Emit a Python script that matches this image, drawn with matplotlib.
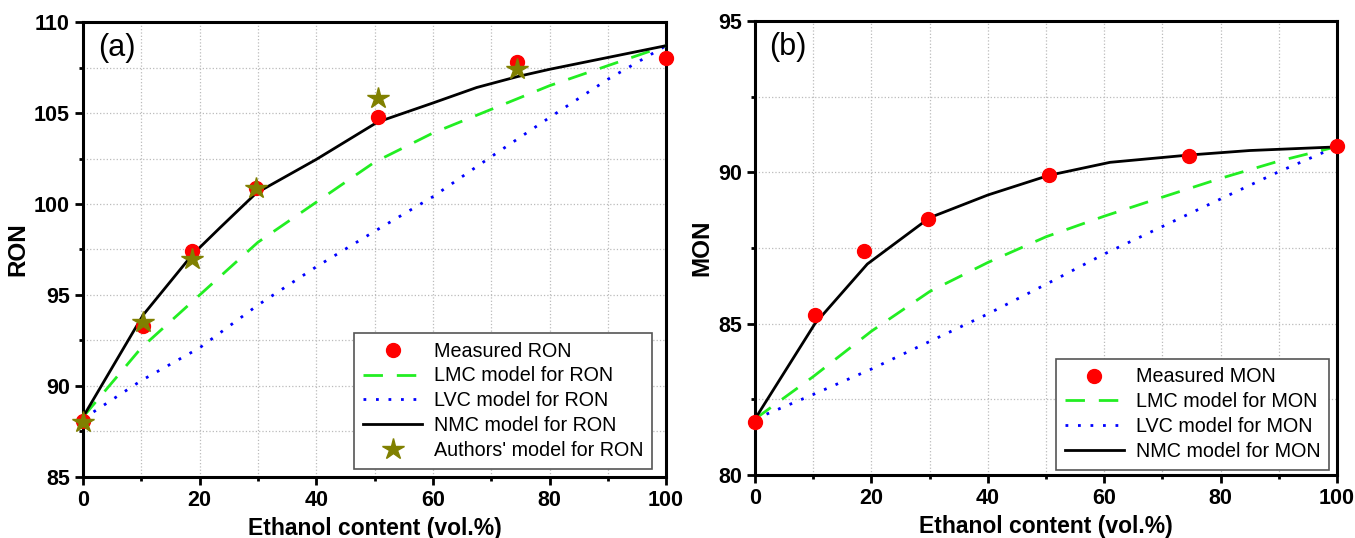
import numpy as np
import matplotlib.pyplot as plt

plt.rcParams['font.family'] = ['Liberation Sans', 'DejaVu Sans']

# ---- RON panel data ----
x_meas = [0, 10.3, 18.7, 29.7, 50.5, 74.5, 100]
ron_meas = [88.1, 93.3, 97.4, 100.9, 104.8, 107.8, 108.0]
ron_authors = [88.0, 93.5, 97.0, 100.9, 105.8, 107.4]
x_authors = [0, 10.3, 18.7, 29.7, 50.5, 74.5]

x_nmc_ron = [0, 10.3, 18.7, 23.5, 29.7, 40, 50.5, 60, 67.5, 74.5, 80, 90, 100]
ron_nmc = [88.3, 93.9, 97.2, 98.7, 100.6, 102.45, 104.5, 105.55, 106.4, 107.0, 107.4, 108.05, 108.7]

x_model = [0, 10, 20, 30, 40, 50, 60, 70, 80, 90, 100]
ron_lmc = [88.3, 92.1, 95.0, 97.9, 100.1, 102.3, 103.9, 105.2, 106.5, 107.6, 108.7]
ron_lvc = [88.2, 90.3, 92.1, 94.45, 96.55, 98.5, 100.4, 102.6, 104.75, 106.85, 108.7]

# ---- MON panel data ----
mon_meas = [81.75, 85.3, 87.4, 88.47, 89.9, 90.55, 90.88]
x_nmc_mon = [0, 10.3, 19.3, 30, 40, 50.5, 61, 74.5, 85, 100]
mon_nmc = [81.85, 85.0, 86.97, 88.5, 89.25, 89.9, 90.33, 90.57, 90.72, 90.84]
mon_lmc = [81.85, 83.25, 84.75, 86.06, 87.02, 87.87, 88.55, 89.18, 89.8, 90.37, 90.85]
mon_lvc = [81.85, 82.66, 83.5, 84.41, 85.32, 86.3, 87.3, 88.21, 89.12, 90.02, 90.85]


def style_axes(ax, ylim, ymaj, ylabel, tag):
    ax.set_xlim(0, 100)
    ax.set_ylim(*ylim)
    ax.set_xticks(np.arange(0, 101, 20))
    ax.set_xticks(np.arange(10, 100, 20), minor=True)
    ax.set_yticks(np.arange(ylim[0], ylim[1] + 0.1, ymaj))
    ax.set_yticks(np.arange(ylim[0] + ymaj / 2, ylim[1], ymaj), minor=True)
    ax.grid(True, which='both', color='#bbbbbb', linestyle=':', linewidth=0.9)
    ax.set_axisbelow(True)
    for s in ax.spines.values():
        s.set_linewidth(2.2)
    ax.tick_params(which='major', direction='out', length=6, width=2,
                   labelsize=15.5)
    ax.tick_params(which='minor', direction='out', length=3, width=2)
    for lab in ax.get_xticklabels() + ax.get_yticklabels():
        lab.set_fontweight('bold')
    ax.set_xlabel('Ethanol content (vol.%)', fontsize=16.5, fontweight='bold', labelpad=4)
    ax.set_ylabel(ylabel, fontsize=17.5, fontweight='bold', labelpad=3)
    ax.text(0.025, 0.975, tag, transform=ax.transAxes, fontsize=22, va='top', ha='left')


fig = plt.figure(figsize=(13.55, 5.38), dpi=100)
ax1 = fig.add_axes([0.0613, 0.1134, 0.4303, 0.8457])
ax2 = fig.add_axes([0.5572, 0.1171, 0.4295, 0.8439])

dash = (0, (7, 5))
dots = (0, (1, 3.5))

# panel (a)
ax1.plot(x_meas, ron_meas, 'o', color='red', markersize=10, label='Measured RON', zorder=4, clip_on=False)
ax1.plot(x_model, ron_lmc, color='#22ee22', linestyle=dash, linewidth=2, label='LMC model for RON', zorder=3)
ax1.plot(x_model, ron_lvc, color='blue', linestyle=dots, linewidth=2, label='LVC model for RON', zorder=3)
ax1.plot(x_nmc_ron, ron_nmc, color='black', linewidth=2, label='NMC model for RON', zorder=3)
ax1.plot(x_authors, ron_authors, '*', color='#808000', markersize=16, label="Authors' model for RON", zorder=5, clip_on=False)
style_axes(ax1, (85, 110), 5, 'RON', '(a)')
leg1 = ax1.legend(loc='lower right', bbox_to_anchor=(0.99, 0.0), fontsize=14.2, fancybox=False,
                  edgecolor='#555555', framealpha=1, handlelength=3.0, labelspacing=0.3,
                  borderpad=0.45, handletextpad=0.6, borderaxespad=0.4)
leg1.get_frame().set_linewidth(1.2)

# panel (b)
ax2.plot(x_meas, mon_meas, 'o', color='red', markersize=10, label='Measured MON', zorder=4, clip_on=False)
ax2.plot(x_model, mon_lmc, color='#22ee22', linestyle=dash, linewidth=2, label='LMC model for MON', zorder=3)
ax2.plot(x_model, mon_lvc, color='blue', linestyle=dots, linewidth=2, label='LVC model for MON', zorder=3)
ax2.plot(x_nmc_mon, mon_nmc, color='black', linewidth=2, label='NMC model for MON', zorder=3)
style_axes(ax2, (80, 95), 5, 'MON', '(b)')
leg2 = ax2.legend(loc='lower right', bbox_to_anchor=(0.995, 0.0), fontsize=14.2, fancybox=False,
                  edgecolor='#555555', framealpha=1, handlelength=3.0, labelspacing=0.3,
                  borderpad=0.45, handletextpad=0.6, borderaxespad=0.25)
leg2.get_frame().set_linewidth(1.2)

fig.savefig('out.png', dpi=100)
